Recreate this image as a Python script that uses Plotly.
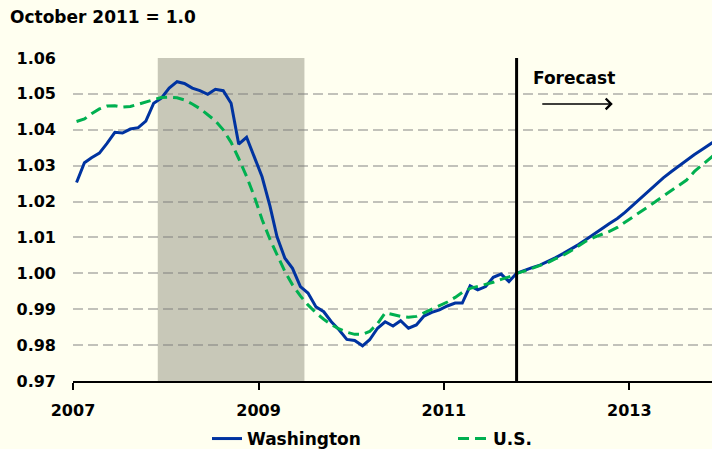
import pandas as pd
import plotly.graph_objects as go

# Monthly index values, Jan 2007 - Dec 2013 (October 2011 = 1.0)
months = pd.date_range("2007-01-01", periods=84, freq="MS") + pd.Timedelta(days=14)

washington = [
    1.0253, 1.0308, 1.0322, 1.0335, 1.0362, 1.0393, 1.0391, 1.0402, 1.0406, 1.0424, 1.0474, 1.0488,
    1.0516, 1.0534, 1.0529, 1.0516, 1.0509, 1.0499, 1.0513, 1.0509, 1.0474, 1.0360, 1.0379, 1.0325,
    1.0269, 1.0188, 1.0102, 1.0042, 1.0014, 0.9963, 0.9945, 0.9907, 0.9893, 0.9865, 0.9842, 0.9816,
    0.9813, 0.9798, 0.9815, 0.9847, 0.9865, 0.9853, 0.9868, 0.9847, 0.9856, 0.9881, 0.9891, 0.9898,
    0.9909, 0.9917, 0.9917, 0.9965, 0.9954, 0.9963, 0.9989, 0.9998, 0.9977, 1.0000, 1.0009, 1.0016,
    1.0023, 1.0033, 1.0043, 1.0055, 1.0067, 1.0080, 1.0094, 1.0108, 1.0124, 1.0139, 1.0153, 1.0170,
    1.0190, 1.0208, 1.0228, 1.0248, 1.0266, 1.0283, 1.0299, 1.0316, 1.0331, 1.0345, 1.0360, 1.0374,
]

us = [
    1.0423, 1.0430, 1.0445, 1.0458, 1.0466, 1.0467, 1.0463, 1.0465, 1.0471, 1.0478, 1.0484, 1.0490,
    1.0491, 1.0489, 1.0483, 1.0472, 1.0459, 1.0442, 1.0425, 1.0400, 1.0365, 1.0320, 1.0270, 1.0215,
    1.0150, 1.0095, 1.0050, 1.0005, 0.9968, 0.9937, 0.9912, 0.9890, 0.9872, 0.9857, 0.9845, 0.9836,
    0.9830, 0.9830, 0.9838, 0.9860, 0.9890, 0.9885, 0.9880, 0.9878, 0.9880, 0.9890, 0.9900, 0.9910,
    0.9920, 0.9933, 0.9947, 0.9958, 0.9963, 0.9968, 0.9975, 0.9983, 0.9990, 1.0000, 1.0006, 1.0014,
    1.0022, 1.0030, 1.0040, 1.0050, 1.0062, 1.0076, 1.0090, 1.0100, 1.0108, 1.0117, 1.0128, 1.0142,
    1.0158, 1.0172, 1.0185, 1.0200, 1.0215, 1.0230, 1.0245, 1.0260, 1.0284, 1.0302, 1.0320, 1.0338,
]

year_ticks = ["2007-01-01", "2009-01-01", "2011-01-01", "2013-01-01"]
year_labels = ["2007", "2009", "2011", "2013"]
y_ticks = [0.97, 0.98, 0.99, 1.00, 1.01, 1.02, 1.03, 1.04, 1.05, 1.06]
y_labels = ["0.97", "0.98", "0.99", "1.00", "1.01", "1.02", "1.03", "1.04", "1.05", "1.06"]

recession = ("2007-12-01", "2009-07-01")
forecast_start = "2011-10-15"

FONT = "Verdana, DejaVu Sans, sans-serif"
BG = "#FFFFF0"

fig = go.Figure()
fig.add_trace(go.Scatter(
    x=months, y=washington, name="Washington", mode="lines",
    line=dict(color="#0033A0", width=3), legend="legend",
))
fig.add_trace(go.Scatter(
    x=months, y=us, name="U.S.", mode="lines",
    line=dict(color="#00B050", width=3, dash="11px,6px"), legend="legend2",
))

fig.add_shape(type="rect", xref="x", yref="y", x0=recession[0], x1=recession[1],
              y0=0.97, y1=1.06, fillcolor="#C8C8B8", line_width=0, layer="below")
fig.add_shape(type="line", xref="x", yref="y", x0=forecast_start, x1=forecast_start,
              y0=0.97, y1=1.06, line=dict(color="black", width=3), layer="above")

fig.add_annotation(x="2011-12-09", y=1.0544, xref="x", yref="y", text="Forecast",
                   showarrow=False, xanchor="left", yanchor="middle",
                   font=dict(family=FONT, size=17, color="black", weight="bold"))
fig.add_annotation(x="2012-10-28", y=1.0472, xref="x", yref="y", text="",
                   showarrow=True, ax=-72, ay=0, axref="pixel", ayref="pixel",
                   arrowhead=4, arrowsize=1.3, arrowwidth=1.6, arrowcolor="black")

fig.update_layout(
    width=712, height=449,
    paper_bgcolor=BG, plot_bgcolor=BG,
    margin=dict(l=73, r=0, t=58, b=68, autoexpand=False),
    font=dict(family=FONT, size=16, color="black", weight="bold"),
    title=dict(text="October 2011 = 1.0", x=10 / 712, xref="container", xanchor="left",
               y=1 - 17 / 449, yref="container", yanchor="middle",
               font=dict(family=FONT, size=17, color="black", weight="bold")),
    xaxis=dict(
        range=["2007-01-01", "2013-11-23"], tickmode="array",
        tickvals=year_ticks, ticktext=year_labels,
        showgrid=False, showline=True, linecolor="black", linewidth=2,
        ticks="outside", ticklen=7, tickwidth=2, tickcolor="black",
        ticklabelstandoff=7, zeroline=False, automargin=False,
        tickfont=dict(family=FONT, size=16, color="black", weight="bold"),
    ),
    yaxis=dict(
        range=[0.97, 1.06], tickmode="array", tickvals=y_ticks, ticktext=y_labels,
        showgrid=True, gridcolor="rgba(120,120,120,0.45)", gridwidth=2, griddash="10px,5px",
        showline=False, zeroline=False, ticks="", ticklabelstandoff=16, automargin=False,
        tickfont=dict(family=FONT, size=16, color="black", weight="bold"),
    ),
    legend=dict(orientation="h", x=207 / 712, xref="container", xanchor="left",
                y=1 - 421 / 449, yref="container", yanchor="top",
                bgcolor="rgba(0,0,0,0)",
                font=dict(family=FONT, size=17, color="black", weight="bold")),
    legend2=dict(orientation="h", x=453 / 712, xref="container", xanchor="left",
                 y=1 - 421 / 449, yref="container", yanchor="top",
                 bgcolor="rgba(0,0,0,0)",
                 font=dict(family=FONT, size=17, color="black", weight="bold")),
    showlegend=True,
)

fig.write_html("out.html", config={"displayModeBar": False},
               post_script="document.body.style.margin='0';document.body.style.overflow='hidden';")
